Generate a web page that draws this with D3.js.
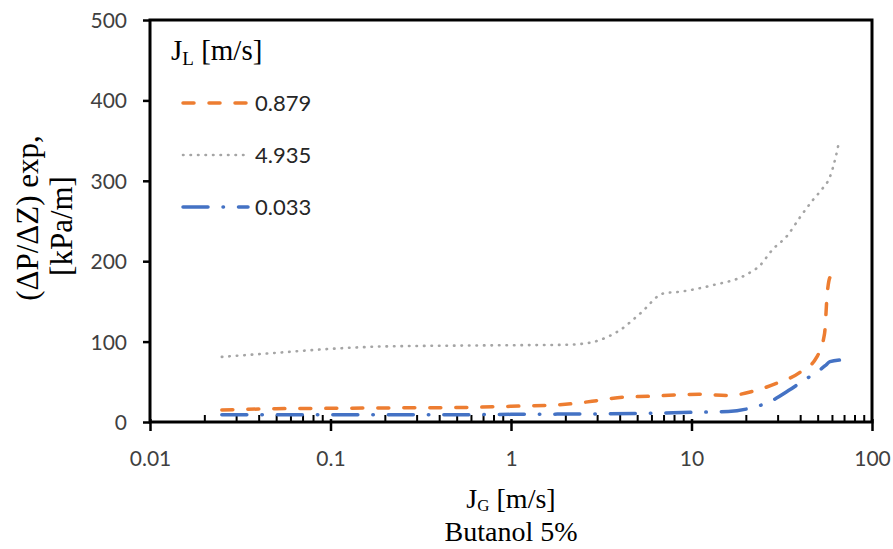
<!DOCTYPE html>
<html>
<head>
<meta charset="utf-8">
<script src="https://cdn.jsdelivr.net/npm/d3@7"></script>
<style>
  html, body { margin: 0; padding: 0; background: #fff; }
  svg { display: block; }
</style>
</head>
<body>
<svg id="chart" width="893" height="549"></svg>
<script>
// ---- data ----
const xMajorTicks = [0.01, 0.1, 1, 10, 100];
const xTickLabels = ["0.01", "0.1", "1", "10", "100"];
const yTicks = [0, 100, 200, 300, 400, 500];

const seriesNames = ["0.879", "4.935", "0.033"];

const jg_0879 = [0.025, 0.05, 0.1, 0.2, 0.5, 1, 2, 3.1, 4.2, 5.9, 8.6, 11, 16.3, 21.7, 29.5, 40, 49.5, 54.6, 56.5, 58.5, 61, 64];
const dp_0879 = [15, 16.5, 17, 17.5, 18, 19.5, 22, 27, 31, 32, 34, 34.5, 33, 38, 48, 62, 81, 110, 160, 180, 184, 183];

const jg_4935 = [0.025, 0.05, 0.1, 0.2, 0.5, 1, 2, 2.8, 3.1, 4.0, 5.2, 7.0, 8.6, 13, 20, 24, 28, 34, 40, 47, 53, 58.5, 63, 65.6];
const dp_4935 = [81, 86, 91, 94, 95, 95.5, 96, 99, 102, 114, 135, 160, 162, 170, 183, 195, 214, 232, 255, 276, 290, 305, 330, 348];

const jg_0033 = [0.025, 0.1, 0.5, 1, 5, 10, 16, 21, 27, 35, 42, 49.5, 55, 58.5, 66];
const dp_0033 = [9, 9, 9, 9.5, 10.5, 12, 13, 17, 25, 40, 52, 62, 70, 75, 77];

// ---- layout ----
const svg = d3.select("#chart");
const L = 150, R = 872, T = 20, B = 422;

const x = d3.scaleLog().domain([0.01, 100]).range([L, R]);
const y = d3.scaleLinear().domain([0, 500]).range([B, T]);

const sansFont = "Lato, 'Open Sans', 'Liberation Sans', sans-serif";
const serifFont = "'Liberation Serif', 'DejaVu Serif', serif";
const tickColor = "#404040";

// minor ticks
const minorTicks = [];
for (let d = 0.01; d < 100; d *= 10) {
  for (let k = 2; k <= 9; k++) minorTicks.push(+(d * k).toPrecision(3));
}

// x minor ticks (inside, upward)
const gxMinor = svg.append("g").attr("transform", `translate(0,${B})`)
  .call(d3.axisBottom(x).tickValues(minorTicks).tickSize(-7).tickFormat(""));
gxMinor.select(".domain").remove();
gxMinor.selectAll("line").attr("stroke", "#000").attr("stroke-width", 2);

// x major ticks (cross), labels
const gx = svg.append("g").attr("transform", `translate(0,${B})`)
  .call(d3.axisBottom(x).tickValues(xMajorTicks).tickSize(9)
    .tickFormat((d, i) => xTickLabels[i]));
gx.select(".domain").remove();
gx.selectAll("line").attr("stroke", "#000").attr("stroke-width", 2.5).attr("y1", -3);
gx.selectAll("text")
  .attr("y", 44).attr("dy", 0)
  .attr("fill", tickColor)
  .style("font-family", sansFont).style("font-size", "21px");

// y axis
const gy = svg.append("g").attr("transform", `translate(${L},0)`)
  .call(d3.axisLeft(y).tickValues(yTicks).tickSize(7).tickFormat(d3.format("d")));
gy.select(".domain").remove();
gy.selectAll("line").attr("stroke", "#000").attr("stroke-width", 2.5);
gy.selectAll("text")
  .attr("x", -23).attr("dy", "0.36em")
  .attr("fill", tickColor)
  .style("font-family", sansFont).style("font-size", "21px");

// frame
svg.append("rect")
  .attr("x", L).attr("y", T).attr("width", R - L).attr("height", B - T)
  .attr("fill", "none").attr("stroke", "#000").attr("stroke-width", 3);

// series
const styles = {
  "0.879": { color: "#ED7D31", width: 3.5, dash: "11,15" },
  "4.935": { color: "#A5A5A5", width: 2.6, dash: "0.5,7" },
  "0.033": { color: "#4472C4", width: 3.5, dash: "25,15,0.5,15" }
};
const seriesData = {
  "0.879": jg_0879.map((v, i) => [v, dp_0879[i]]),
  "4.935": jg_4935.map((v, i) => [v, dp_4935[i]]),
  "0.033": jg_0033.map((v, i) => [v, dp_0033[i]])
};

const line = d3.line()
  .x(d => x(d[0])).y(d => y(d[1]))
  .curve(d3.curveMonotoneX);

const drawOrder = ["4.935", "0.879", "0.033"];
drawOrder.forEach(name => {
  const s = styles[name];
  svg.append("path")
    .datum(seriesData[name])
    .attr("d", line)
    .attr("fill", "none")
    .attr("stroke", s.color)
    .attr("stroke-width", s.width)
    .attr("stroke-dasharray", s.dash)
    .attr("stroke-linecap", "round")
    .attr("stroke-linejoin", "round");
});

// legend
const legTitle = svg.append("text")
  .attr("x", 171).attr("y", 60)
  .attr("fill", "#000")
  .style("font-family", serifFont).style("font-size", "29px");
legTitle.append("tspan").text("J");
legTitle.append("tspan").attr("dy", 5).style("font-size", "19px").text("L");
legTitle.append("tspan").attr("dy", -5).text(" [m/s]");

const legRows = [103, 155, 207];
seriesNames.forEach((name, i) => {
  const s = styles[name];
  svg.append("line")
    .attr("x1", 183).attr("x2", 248)
    .attr("y1", legRows[i]).attr("y2", legRows[i])
    .attr("stroke", s.color).attr("stroke-width", s.width)
    .attr("stroke-dasharray", s.dash).attr("stroke-linecap", "round");
  svg.append("text")
    .attr("x", 255).attr("y", legRows[i]).attr("dy", "0.36em")
    .attr("fill", "#262626")
    .style("font-family", sansFont).style("font-size", "22px")
    .text(name);
});

// y axis title
svg.append("text")
  .attr("transform", "translate(38,218) rotate(-90)")
  .attr("text-anchor", "middle").attr("fill", "#000")
  .style("font-family", serifFont).style("font-size", "31px")
  .text("(ΔP/ΔZ) exp,");
svg.append("text")
  .attr("transform", "translate(72,226) rotate(-90)")
  .attr("text-anchor", "middle").attr("fill", "#000")
  .style("font-family", serifFont).style("font-size", "31px")
  .text("[kPa/m]");

// x axis title
const xTitle = svg.append("text")
  .attr("x", 511).attr("y", 508)
  .attr("text-anchor", "middle").attr("fill", "#000")
  .style("font-family", serifFont).style("font-size", "28px");
xTitle.append("tspan").text("J");
xTitle.append("tspan").attr("dy", 3).style("font-size", "17px").text("G");
xTitle.append("tspan").attr("dy", -3).text(" [m/s]");

svg.append("text")
  .attr("x", 511).attr("y", 541)
  .attr("text-anchor", "middle").attr("fill", "#000")
  .style("font-family", serifFont).style("font-size", "28px")
  .text("Butanol 5%");
</script>
</body>
</html>
